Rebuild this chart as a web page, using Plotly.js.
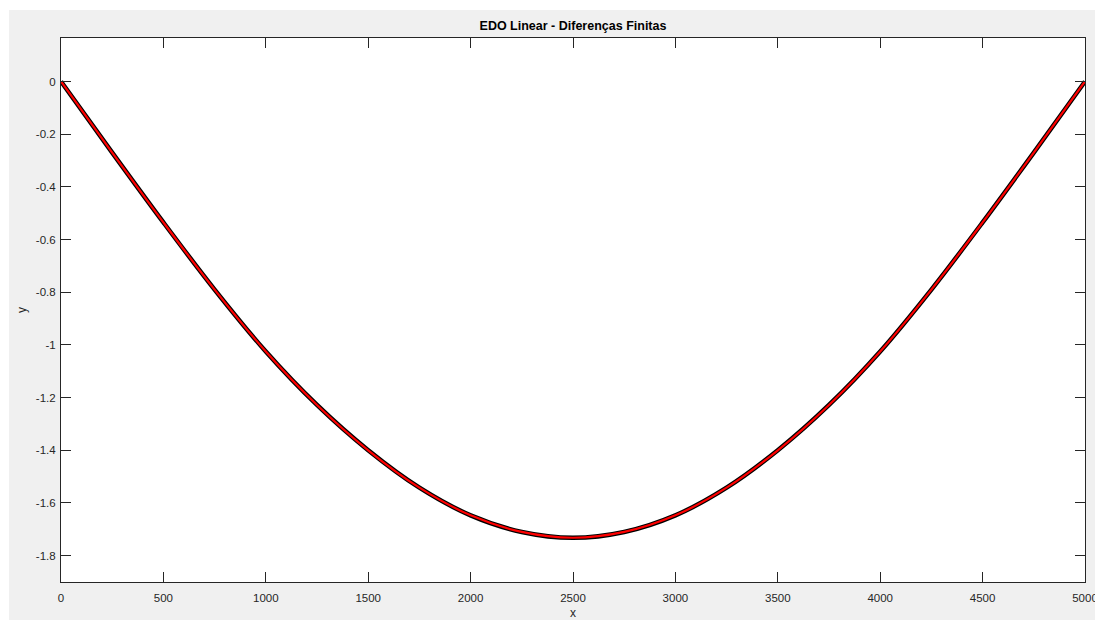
<!DOCTYPE html>
<html>
<head>
<meta charset="utf-8">
<script src="https://cdn.plot.ly/plotly-3.0.1.min.js"></script>
<style>
  html, body { margin: 0; padding: 0; background: #ffffff; overflow: hidden; }
  #chart { position: absolute; left: 9px; top: 10px; width: 1086px; height: 610px; }
</style>
</head>
<body>
<div id="chart"></div>
<script>
// ---- data ----
const xValues = [0, 250, 500, 750, 1000, 1250, 1500, 1750, 2000, 2250, 2500,
                 2750, 3000, 3250, 3500, 3750, 4000, 4250, 4500, 4750, 5000];
const yExact = [0, -0.270, -0.535, -0.790, -1.025, -1.228, -1.400, -1.542, -1.647, -1.710, -1.732,
                -1.710, -1.647, -1.542, -1.400, -1.228, -1.025, -0.790, -0.535, -0.270, 0];
const yFiniteDiff = [0, -0.270, -0.535, -0.790, -1.025, -1.228, -1.400, -1.542, -1.647, -1.710, -1.732,
                     -1.710, -1.647, -1.542, -1.400, -1.228, -1.025, -0.790, -0.535, -0.270, 0];
const xTickVals = [0, 500, 1000, 1500, 2000, 2500, 3000, 3500, 4000, 4500, 5000];
const yTickVals = [0, -0.2, -0.4, -0.6, -0.8, -1, -1.2, -1.4, -1.6, -1.8];
const yTickText = ["0", "-0.2", "-0.4", "-0.6", "-0.8", "-1", "-1.2", "-1.4", "-1.6", "-1.8"];
const titleText = "EDO Linear - Diferenças Finitas";

const axisColor = "#262626";
const fontFam = "Liberation Sans, Arial, sans-serif";

const traces = [
  { x: xValues, y: yExact, type: "scatter", mode: "lines",
    line: { color: "#000000", width: 4.5, shape: "spline", smoothing: 1 }, hoverinfo: "none" },
  { x: xValues, y: yFiniteDiff, type: "scatter", mode: "lines",
    line: { color: "#ff0000", width: 2.2, shape: "spline", smoothing: 1 }, hoverinfo: "none" }
];

const axisCommon = {
  showgrid: false, zeroline: false, showline: true, linecolor: axisColor, linewidth: 1,
  mirror: "allticks", ticks: "inside", ticklen: 10, tickwidth: 1, tickcolor: axisColor,
  ticklabeloverflow: "allow",
  tickfont: { family: fontFam, size: 11.5, color: axisColor }
};

const layout = {
  width: 1086, height: 610,
  paper_bgcolor: "#f0f0f0", plot_bgcolor: "#ffffff",
  margin: { l: 52, r: 10, t: 28, b: 38 },
  showlegend: false,
  title: { text: "<b>" + titleText + "</b>", font: { family: fontFam, size: 12.5, color: "#000000" },
           x: 0.5, xref: "paper", xanchor: "center", yref: "container", y: 1 - 16 / 610, yanchor: "middle" },
  xaxis: Object.assign({}, axisCommon, {
    range: [0, 5000], tickmode: "array", tickvals: xTickVals,
    ticklabelstandoff: 5,
    title: { text: "x", font: { family: fontFam, size: 12, color: axisColor }, standoff: 12 }
  }),
  yaxis: Object.assign({}, axisCommon, {
    range: [-1.9, 0.165], tickmode: "array", tickvals: yTickVals, ticktext: yTickText,
    ticklabelstandoff: 2,
    title: { text: "y", font: { family: fontFam, size: 12, color: axisColor }, standoff: 6 }
  })
};

Plotly.newPlot("chart", traces, layout, { staticPlot: true, displayModeBar: false });
</script>
</body>
</html>
